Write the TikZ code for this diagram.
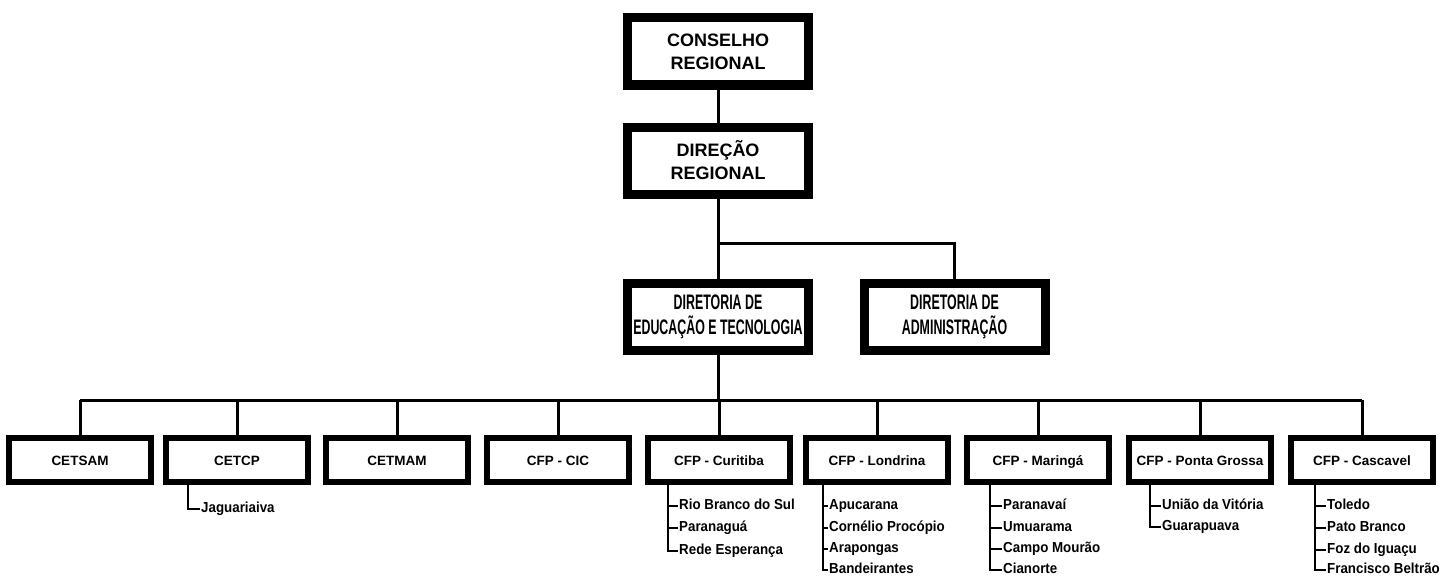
\documentclass[tikz,border=0pt]{standalone}
\usepackage{fontspec}
\setmainfont{Liberation Sans}
\newfontfamily\narrowbf[FakeStretch=0.59]{Liberation Sans Bold}
\newfontfamily\itembf[FakeStretch=0.92]{Liberation Sans Bold}
\begin{document}
\begin{tikzpicture}[x=1pt,y=-1pt,
  bigbox/.style={draw,line width=9pt,minimum width=181pt,minimum height=67pt,inner sep=0pt,align=center},
  topfont/.style={font=\fontsize{18}{23}\selectfont\bfseries},
  dirfont/.style={font=\fontsize{21}{25}\narrowbf},
  unit/.style={draw,line width=6pt,minimum width=142pt,minimum height=44pt,inner sep=0pt,text height=10pt,text depth=0pt,font=\fontsize{13.5}{16}\selectfont\bfseries},
  item/.style={anchor=west,inner sep=1pt,text height=10pt,text depth=3pt,font=\fontsize{14.5}{16}\itembf},
  conn/.style={line width=3pt},
  sub/.style={line width=2.5pt}]
\useasboundingbox (0,0) rectangle (1446,578);
\node[bigbox,topfont] (cr) at (718,51.5) {CONSELHO\\REGIONAL};
\node[bigbox,topfont] (dr) at (718,160.5) {DIREÇÃO\\REGIONAL};
\node[bigbox,dirfont] (edu) at (718,316.5) {DIRETORIA DE\\EDUCAÇÃO E TECNOLOGIA};
\node[bigbox,dirfont] (adm) at (954.5,316.5) {DIRETORIA DE\\ADMINISTRAÇÃO};
\coordinate (split) at (718,243);
\coordinate (bus) at (718,400);
\draw[conn] (cr) -- (dr);
\draw[conn] (dr.south) -- (edu.north);
\draw[conn] (split) -| (adm.north);
\draw[conn] (edu.south) -- (bus);
\node[unit] (u1) at (80,460) {CETSAM};
\node[unit] (u2) at (237,460) {CETCP};
\node[unit] (u3) at (397,460) {CETMAM};
\node[unit] (u4) at (558,460) {CFP - CIC};
\node[unit] (u5) at (719,460) {CFP - Curitiba};
\node[unit] (u6) at (877,460) {CFP - Londrina};
\node[unit] (u7) at (1038,460) {CFP - Maringá};
\node[unit] (u8) at (1200,460) {CFP - Ponta Grossa};
\node[unit] (u9) at (1362,460) {CFP - Cascavel};
\draw[conn] (u1.north |- bus) -- (u9.north |- bus);
\foreach \u in {u1,u2,u3,u4,u5,u6,u7,u8,u9}{\draw[conn] (\u.north |- bus) -- (\u.north);}
% CETCP
\coordinate (l2) at (188,485);
\node[item] (j1) at (200,509) {Jaguariaiva};
\draw[sub] (l2) |- (j1.west);
% Curitiba
\coordinate (l5) at (668,485);
\node[item] (a1) at (678,506) {Rio Branco do Sul};
\node[item] (a2) at (678,528) {Paranaguá};
\node[item] (a3) at (678,551) {Rede Esperança};
\draw[sub] (l5) |- (a3.west);
\foreach \n in {a1,a2}{\draw[sub] (\n.west -| l5) -- (\n.west);}
% Londrina
\coordinate (l6) at (823,485);
\node[item] (b1) at (828,506) {Apucarana};
\node[item] (b2) at (828,528) {Cornélio Procópio};
\node[item] (b3) at (828,549) {Arapongas};
\node[item] (b4) at (828,570) {Bandeirantes};
\draw[sub] (l6) |- (b4.west);
\foreach \n in {b1,b2,b3}{\draw[sub] (\n.west -| l6) -- (\n.west);}
% Maringa
\coordinate (l7) at (990,485);
\node[item] (c1) at (1002,506) {Paranavaí};
\node[item] (c2) at (1002,528) {Umuarama};
\node[item] (c3) at (1002,549) {Campo Mourão};
\node[item] (c4) at (1002,570) {Cianorte};
\draw[sub] (l7) |- (c4.west);
\foreach \n in {c1,c2,c3}{\draw[sub] (\n.west -| l7) -- (\n.west);}
% Ponta Grossa
\coordinate (l8) at (1150,485);
\node[item] (d1) at (1161,506) {União da Vitória};
\node[item] (d2) at (1161,527) {Guarapuava};
\draw[sub] (l8) |- (d2.west);
\draw[sub] (d1.west -| l8) -- (d1.west);
% Cascavel
\coordinate (l9) at (1315,485);
\node[item] (e1) at (1326,506) {Toledo};
\node[item] (e2) at (1326,528) {Pato Branco};
\node[item] (e3) at (1326,550) {Foz do Iguaçu};
\node[item] (e4) at (1326,570) {Francisco Beltrão};
\draw[sub] (l9) |- (e4.west);
\foreach \n in {e1,e2,e3}{\draw[sub] (\n.west -| l9) -- (\n.west);}
\end{tikzpicture}
\end{document}
